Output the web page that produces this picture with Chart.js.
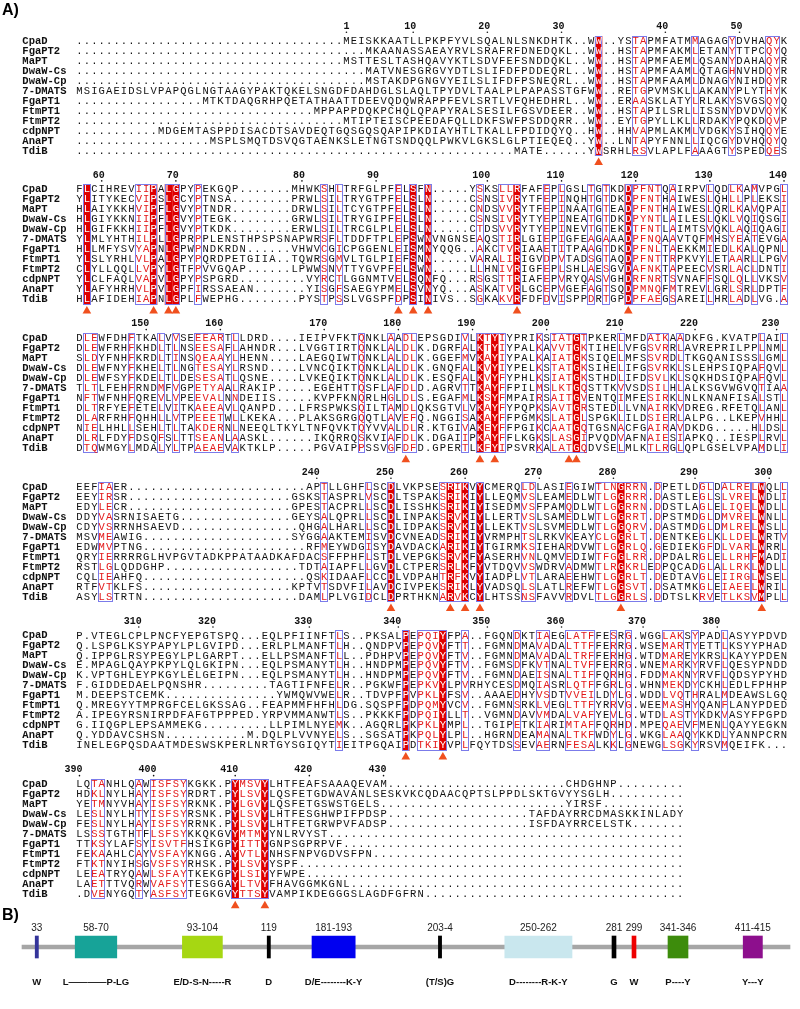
<!DOCTYPE html>
<html>
<head>
<meta charset="utf-8">
<script src="https://cdn.jsdelivr.net/npm/chart.js@4.4.1/dist/chart.umd.min.js"></script>
<style>
  html, body { margin: 0; padding: 0; background: #fff; }
  #wrap { position: relative; width: 800px; height: 1009px; }
  #alignChart { position: absolute; left: 0; top: 0; }
  #domainChart { position: absolute; left: 0; top: 900px; }
</style>
</head>
<body>
<div id="wrap">
  <canvas id="alignChart" width="800" height="915"></canvas>
  <canvas id="domainChart" width="800" height="109"></canvas>
</div>
<script>
// ---- panel A data: sequence names and the six alignment blocks ----
const names = ['CpaD', 'FgaPT2', 'MaPT', 'DwaW-Cs', 'DwaW-Cp', '7-DMATS',
               'FgaPT1', 'FtmPT1', 'FtmPT2', 'cdpNPT', 'AnaPT', 'TdiB'];

const block1 = [
  'MEISKKAATLLPKPFYVLSQALNLSNKDHTK..WW..YSTAPMFATMMAGAGYDVHAQYK',
  'MKAANASSAEAYRVLSRAFRFDNEDQKL..WW..HSTAPMFAKMLETANYTTPCQYQ',
  'MSTTESLTASHQAVYKTLSDVFEFSNDDQKL..WW..HSTAPMFAEMLQSANYDAHAQYR',
  'MATVNESGRGVYDTLSLIFDFPDDEQRL..WW..HSTAPMFAAMLQTAGHNVHDQYR',
  'MSTAKDPGNGVYEILSLIFDFPSNEQRL..WW..HSTAPMFAAMLDNAGYNIHDQYR',
  'MSIGAEIDSLVPAPQGLNGTAAGYPAKTQKELSNGDFDAHDGLSLAQLTPYDVLTAALPLPAPASSTGFWW..RETGPVMSKLLAKANYPLYTHYK',
  'MTKTDAQGRHPQETATHAATTDEEVQDQWRAPPFEVLSRTLVFQHEDHRL..WW..ERAASKLATYLRLAKYSVGSQYQ',
  'MPPAPPDQKPCHQLQPAPYRALSESILFGSVDEER..WW..HSTAPILSRLLISSNYDVDVQYK',
  'MTIPTEISCPEEDAFQLLDKFSWFPSDDQRR..WW..EYTGPYLLKLLRDAKYPQKDQVP',
  'MDGEMTASPPDISACDTSAVDEQTGQSGQSQAPIPKDIAYHTLTKALLFPDIDQYQ..HW..HHVAPMLAKMLVDGKYSIHQQYE',
  'MSPLSMQTDSVQGTAENKSLETNGTSNDQQLPWKVLGKSLGLPTIEQEQ..YW..LNTAPYFNNLLIQCGYDVHQQYQ',
  'MATE' + '......' + 'YWSRHLRSVLAPLFAAAGTYSPEDQES'
];
const block2 = [
  'FLCIHREVIIPALGPYPEKGQP' + '.......' + 'MHWKSHLTRFGLPFELSFN' + '.....' + 'YSKSLLRFAFEPLGSLTGTKDDPFNTQAIRPVLQDLKAMVPGL',
  'YLITYKECVIPSLGCYPTNSA' + '........' + 'PRWLSILTRYGTPFELSLN' + '.....' + 'CSNSIVRYTFEPINQHTGTDKDPFNTHAIWESLQHLLPLEKSI',
  'HLAIYKKHVIPFLGVYPTNDR' + '........' + 'DRWLSILTCYGTPFELSLN' + '.....' + 'CNDSVVRYTFEPINAATGTEADPFNTHAIWESLQRLKAVQPAI',
  'HLGIYKKNIIPFLGVYPTEGK' + '........' + 'GRWLSILTRYGIPFELSLN' + '.....' + 'CSNSIVRYTYEPINEATGTDKDPYNTLAILESLQKLVQIQSGI',
  'HLGIFKKHIIPFLGVYPTKDK' + '........' + 'ERWLSILTRCGLPLELSLN' + '.....' + 'CTDSVVRYTYEPINEVTGTEKDTFNTLAIMTSVQKLAQIQAGI',
  'YLMLYHTHILPLLGPRPPLENSTHPSPSNAPWRSFLTDDFTP' + 'LEPSWNVNGNSEAQSTIRLGIEPIGFEAGAAADPFNQAAVTQFMHSYEATEVGA',
  'HLLMFYSVYAPNLGPWPNDKRDN' + '......' + 'VHWVCGICPGGEN' + 'LEISMNYQQG..AKCTVRIAAETITPAAGTDKDPFNLTAEKKMIEDLKALQPNL',
  'YLSLYRHLVLPALGPYPQRDPETGIIA..TQWRSGMVLTGLP' + 'IEFSNN' + '.....' + 'VARALIRIGVDPVTADSGTAQDPFNTTRPKVYLETAARLLPGV',
  'CLYLLQQLLVPYLGTFPVVGQAP' + '......' + 'LPWWSNVTTYGVP' + 'FELSWN' + '.....' + 'LLHNIVRIGFEPLSHLAESGVDAFNKTAPEECVSRLACLDNTI',
  'YLCLFAQLVAPVLGPYPSPGRD' + '.........' + 'VYRCTLGGNMT' + 'VELSQNFQ...RSGSTTRIAFEPVRYQASVGHDRFNRTSVNAFFSQLQLLVKSV',
  'YLAFYHRHVLPVLGPFIRSSAEAN' + '.......' + 'YISGFSAEGYP' + 'MELSVNYQ...ASKATVRLGCEPVGEFAGTSQDPMNQFMTREVLGRLSRLDPTF',
  'HLAFIDEHIAPNLGPLFWEPHG' + '........' + 'PYSTPSSLVGSP' + 'FDPSINIVS..SGKAKVRFDFDVISPPDRTGPDPFAEGSAREILHRLADLVG.A'
];
const block3 = [
  'DLEWFDHFTKALVVSEEEARTLLDRD' + '....' + 'IEIPVFKTQNKL' + 'AADLEPSGDIVLKTYIYPRIKSIATGTPKERLMFDAIKAADKFG.KVATPLAIL',
  'DLEWFRHFKHDLTLNSEESAFLAHNDR' + '...' + 'LVGGTIRTQNKL' + 'ALDLK.DGRFALKTYIYPALKAVVTGKTIHELVFGSVRRLAVREPRILPPLNML',
  'SLDYFNHFKRDLTINSQEAAYLHENN' + '....' + 'LAEGQIWTQNKL' + 'ALDLK.GGEFMVKAYIYPALKAIATGKSIQELMFSSVRDLTKGQANISSSLGML',
  'DLEWFNYFKHELTLNGTESAYLRSND' + '....' + 'LVNCQIKTQNKL' + 'ALDLK.GNQFALKVYIYPELKSTATGKSIHELIFGSVRKLSLEHPSIQPAFQVL',
  'DLEWFSYFKDELTLDESESATLQSNE' + '....' + 'LVKEQIKTQNKL' + 'ALDLK.ESQFALKVYFYPHLKSIATGKSTHDLIFDSVLKLSQKHDSIQPAFQVL',
  'TLTLFEHFRNDMFVGPETYAALRAKIP' + '.....' + 'EGEHTTQSFL' + 'AFDLD.AGRVTTKAYFFPILMSLKTGQSTTKVVSDSILHLALKSGVWGVQTIAA',
  'NFTWFNHFQREVLVPEEVALNNDEIIS' + '.....' + 'KVPFKNQRLH' + 'GLDLS.EGAFMLKSYFMPAIRSAITGVENTQIMFESIRKLNLKNANFISALSTL',
  'DLTRFYEFETELVITKAEEAVLQANPD' + '...' + 'LFRSPWKSQILT' + 'AMDLQKSGTVLVKAYFYPQPKSAVTGRSTEDLLVNAIRKVDREG.RFETQLANL',
  'DLARFRHFQHHLLVTPEEETWLLKEKA' + '...' + 'PLAKSGRGQQTL' + 'AVEFQ.NGGISAKAYFFPGMKSLATGLSPGKLILDSIERLALPG..LKEPVHHL',
  'NIELHHLLSEHLTLTAKDERNLNEEQLTKYLTNFQVKTQYVV' + 'ALDLR.KTGIVAKEYFFPGIKCAATGQTGSNACFGAIRAVDKDG.....HLDSL',
  'DLRLFDYFDSQFSLTTSEANLAASKL' + '......' + 'IKQRRQSKVI' + 'AFDLK.DGAIIPKAYFFLKGKSLASGIPVQDVAFNAIESIAPKQ..IESPLRVL',
  'DTQWMGYLMDALYLTPAEAEVAKTKLP' + '.....' + 'PGVAIPPSSV' + 'GFDFD.GPERTLKFYIPSVRKALATGQDVSELMLKTLRGLQPLGSELVPAMDLI'
];
const block4 = [
  'EEFIAER' + '..........' + '..........' + '....' + 'APTLLGHFLSC' + 'DLVKPSESRIKVYCMERQLDLASIEGIWTLNGRRN.DPETLDGLDALRELWQLL',
  'EEYIRSR' + '..........' + '..........' + '..' + 'GSKSTASPRLVSC' + 'DLTSPAKSRIKIYLLEQMVSLEAMEDLWTLGGRRR.DASTLEGLSLVRELWDLI',
  'EDYLECR' + '..........' + '..........' + '..' + 'GPESTACPRLLSC' + 'DLISSHKSRIKIYISEDMVSFPAMQDLWTLGGRRN.DDSTLAGLELIQELWDLL',
  'DDYVASRNISAETG' + '..........' + '.....' + 'GEYSALQPRLLSC' + 'DLINPAKSRVKIYLLERTVSLSAMEDLWTLGGRRT.DPSTMDGLDMVRELWNLL',
  'CDYVSRRNHSAEVD' + '..........' + '......' + 'QHGALHARLLSC' + 'DLIDPAKSRVKIYLLEKTVSLSVMEDLWTLGGQRV.DASTMDGLDMLRELWSLL',
  'MSVMEAWIG' + '..........' + '..........' + 'SYGGAAKTEMISV' + 'DCVNEADSRIKIYVRMPHTSLRKVKEAYCLGGRLT.DENTKEGLKLLDELWRTV',
  'EDWMVPTNG' + '..........' + '..........' + '..' + 'RFMEYWDGISY' + 'DAVDACKARIKIYTGIRMKSIEHARDVWTLGGRLQ.GEDIEKGFDLVARLWRRL',
  'QRYIERRRRGLHVPGVTADKPPATAADKAFDACSFFPHFLST' + 'DLVEPGKSRVKFYASERHVNLQMVEDIWTFGGLRR.DPDALRGLELLRHFMADI',
  'RSTLGLQDDGHP' + '..........' + '........' + 'TDTAIAPFLLGV' + 'DLCTPERSRLKFYVTDQVVSWDRVADMWTLRGKRLEDPQCADGLALLRKLWDLL',
  'CQLIEAHFQ' + '..........' + '..........' + '..' + 'QSKIDAAFLCC' + 'DLVDPAHTRFKVYIADPLVTLARAEEHWTLGGRLT.DEDTAVGLEIIRGLWSEL',
  'RTFVTKLFS' + '..........' + '..........' + 'KPTVTSDVFILAV' + 'DCIVPEKSRIKLYVADSQLSLATLREFWTLGGSVT.DSATMKGLEIAEELWRIL',
  'ASYLSTRTN' + '..........' + '..........' + '.' + 'DAMLPLVGIDCL' + 'DPRTHKNARVKCYLHTSSNSFAVVRDVLTLGGRLS.DDTSLKRVETLKSVMPLL'
];
const block5 = [
  'P.VTEGLCPLPNCFYEPGTSPQ...EQLPFIINFTLS..PKS' + 'ALPEPQIYFPA..FGQNDKTIAEGLATFFESRG.WGGLAKSYPADLASYYPDVD',
  'Q.LSPGLKSYPAPYLPLGVIPD...ERLPLMANFTLH..QND' + 'PVPEPQVYFTT..FGMNDMAVADALTTFFERRG.WSEMARTYETTLKSYYPHAD',
  'Q.IPPGLRSYPEGYLPLGARPT...ELLPSMANFTLL..PDH' + 'PVPEPQVYFTV..FGMNDMAVADALTRFFERHG.WTDMAREYKRSLKAYYPDEN',
  'E.MPAGLQAYPKPYLQLGKIPN...EQLPSMANYTLH..HND' + 'PMPEPQVYFTV..FGMSDFKVTNALTVFFERRG.WNEMARKYRVFLQESYPNDD',
  'K.VPTGHLEYPKGYLELGEIPN...EQLPSMANYTLH..HND' + 'PMPEPQVYFTV..FGMNDAEISNALTIFFQRHG.FDDMAKNYRVFLQDSYPYHD',
  'F.GIDDEDAELPQNSHR' + '.........' + 'TAGTIFNFELR..PGK' + 'WFPEPKVYLPVRHYCESDMQIASRLQTFFGRLG.WHNMEKDYCKHLEDLFPHHP',
  'M.DEEPSTCEMK' + '..........' + '.....' + 'YWMQWVWELR..TDV' + 'PFPVPKLYFSV..AAAEDHYVSDTVVEILDYLG.WDDLVQTHRALMDEAWSLGQ',
  'Q.MREGYYTMPRGFCELGKSSAG..FEAPMMFHFHLDG.SQS' + 'PFPDPQMYVCV..FGMNSRKLVEGLTTFYRRVG.WEEMASHYQANFLANYPDED',
  'A.IPEGYRSNIRPDFAFGTPPPED.YRPVMMANWTLS..PKK' + 'KFPDPQIYLLT..VGMNDAVVMDALVAFYEVLG.WTDLASTYKDKVASYFPGPD',
  'G.IIQGPLEPSAMMEKG' + '.........' + 'LLPIMLNYEMK..AGQ' + 'RLPKPKLYMPL..TGIPETKIARIMTAFFQRHD.MPEQAEVFMENLQAYYEGKN',
  'Q.YDDAVCSHSN' + '...........' + 'M.DQLPLVVNYELS..SGS' + 'ATPKPQLYLPL..HGRNDEAMANALTKFWDYLG.WKGLAAQYKKDLYANNPCRN',
  'INELEGPQSDAATMDESWSKPERLNRTGYSGIQYTIEITPGQ' + 'AIPDTKIYVPLFQYTDSSEVAERNFESALKKLGNEWGLSGKYRSVMQEIFK...'
];
const block6 = [
  'LQTANHLQAWISFSYKGKK.PYMSVYLHTFEAFSAAAQEVAM' + '..........' + '..........' + '....' + 'CHDGHNP',
  'HDKLNYLHAYISFSYRDRT.PYLSVYLQSFETGDWAVANLSE' + 'SKVKCQDAACQPTSLPPDLSKTGVYYSGLH',
  'YETMNYVHAYISFSYRKNK.PYLGVYLQSFETGSWSTGELS.' + '..........' + '..........' + '....' + 'YIRSF',
  'LESLNYLHTYISFSYRSNK.PYLSVYLHTFESGHWPIFPDSP' + '..........' + '.........' + 'TAFDAYRRCDMASKKINLADY',
  'FESLNYLHAYISFSYRRNK.PYLSVYLHTFETGRWPVFADSP' + '..........' + '.........' + 'ISFDAYRRCELSTK',
  'LSSSTGTHTFLSFSYKKQKGVYMTMYYNLRVYST',
  'TTKSYLAFSYISVTFHSIKGPYITTYGNPSGPRPVF',
  'FEKAAHLCAYVSFAYKNGG.AYVTLYNHSFNPVGDVSFPN',
  'FTKTNYIHSGVSFSYRHSK.PYLSVYYSPF',
  'LEEATRYQAWLSFAYTKEKGPYLSIYYFWPE',
  'LAETTTVQRWVAFSYTESGGAYLTVYFHAVGGMKGNL',
  '.DVENYGQTYASFSYTEGKGVYTTSYVAMPIKDEGGGSLAGDFGFRN'
];
const blockWidths = [96, 96, 96, 96, 96, 82];

// strictly conserved columns (red fill) and similarity frames, per block
const fills = [
  [70],
  [1, 10, 12, 13, 45, 47, 59, 74],
  [54, 56, 67],
  [42, 50, 52, 54, 73, 92],
  [44, 49],
  [21, 25]
];
const boxes = [
  [[70, 70], [75, 76], [83, 83], [88, 88], [93, 94]],
  [[1, 1], [8, 10], [12, 13], [16, 16], [33, 33], [35, 35], [43, 43], [45, 45], [47, 47], [54, 54],
   [57, 59], [63, 63], [65, 65], [69, 69], [71, 71], [74, 74], [75, 78], [80, 80], [85, 85], [88, 89],
   [91, 91], [95, 95]],
  [[1, 2], [7, 7], [11, 11], [13, 13], [16, 19], [21, 21], [38, 38], [42, 42], [44, 45], [52, 52],
   [54, 57], [62, 62], [64, 68], [73, 73], [77, 79], [81, 81], [92, 92], [95, 95]],
  [[3, 4], [33, 33], [39, 39], [42, 42], [49, 52], [54, 54], [60, 61], [66, 66], [70, 76], [78, 78],
   [84, 85], [87, 90], [91, 92], [95, 95]],
  [[35, 35], [44, 44], [46, 49], [52, 52], [59, 59], [62, 63], [66, 69], [72, 72], [74, 74], [79, 81],
   [83, 83], [87, 87]],
  [[2, 3], [8, 8], [10, 14], [21, 25]]
];
// CpaD residues marked with a triangle
const markedResidues = [33, 58, 67, 69, 70, 93, 95, 97, 104, 119, 181, 191, 193, 203, 204,
                        250, 258, 260, 262, 281, 299, 341, 346, 410, 414];

// ---- panel B data: motif schematic ----
const motifLabels = ['33', '58-70', '93-104', '119', '181-193', '203-4', '250-262', '281', '299', '341-346', '411-415'];
const motifPatterns = ['W', 'L\u2014\u2014\u2014\u2014P-LG', 'E/D-S-N-----R', 'D', 'D/E--------K-Y', '(T/S)G',
                       'D--------R-K-Y', 'G', 'W', 'P----Y', 'Y---Y'];
// extent of each motif mark along the schematic bar (0-100)
const motifFrom = [4.4, 9.4, 22.8, 33.4, 39.0, 54.8, 63.1, 76.5, 79.0, 83.5, 92.9];
const motifTo   = [4.8, 14.6, 27.8, 33.8, 44.4, 55.2, 71.5, 77.0, 79.5, 86.0, 95.3];
const backbone = [2.75, 98.75];

// ---- styling / layout constants ----
const motifColors = ['#34349a', '#17a398', '#a6d712', '#000000', '#0000f0', '#000000',
                     '#c9e7ee', '#000000', '#ee0000', '#3d8c0c', '#8d0f8d'];
const FILL_RED = '#e00000';
const TEXT_RED = '#e31a1a';
const BOX_BLUE = '#7b7bea';
const TRI_COLOR = '#f0501e';
const SEQ_FONT = '10.5px "Liberation Mono", "DejaVu Sans Mono", monospace';
const NAME_FONT = 'bold 10.5px "Liberation Mono", "DejaVu Sans Mono", monospace';
const NUM_FONT = 'bold 10px "Liberation Mono", "DejaVu Sans Mono", monospace';
const PITCH = 14.884;      // lines from one block to the next
const NAME_COL = -7.7;     // where the names column starts (in column units)
const NUM_LINE = -1.45, NUM_DOT = -0.88, TRI_LINE = 12.15;

// normalise rows: leading gaps for blocks 1-5, trailing gaps for the last one
const rows = [block1, block2, block3, block4, block5, block6].map((blk, b) =>
  blk.map(s => b < 5 ? s.padStart(blockWidths[b], '.') : s.padEnd(blockWidths[b], '.')));

// where each CpaD residue sits (block, column)
const residueAt = {};
let count = 0;
rows.forEach((blk, b) => {
  for (let c = 0; c < blk[0].length; c++) {
    if (blk[0][c] !== '.') { count++; residueAt[count] = { b, c }; }
  }
});

const trianglePoints = markedResidues.map(n => ({ x: residueAt[n].c, y: residueAt[n].b * PITCH + TRI_LINE }));

const alignmentLayer = {
  id: 'alignmentLayer',
  beforeDatasetsDraw(chart) {
    const { ctx, scales: { x, y } } = chart;
    const cw = x.getPixelForValue(1) - x.getPixelForValue(0);
    ctx.save();
    ctx.fillStyle = '#000';
    ctx.font = 'bold 16px "Liberation Sans", Arial, sans-serif';
    ctx.textAlign = 'left';
    ctx.textBaseline = 'middle';
    ctx.fillText('A)', 2, 11);

    rows.forEach((blk, b) => {
      const base = b * PITCH;
      const top = Math.round(y.getPixelForValue(base - 0.55));
      const bottom = Math.round(y.getPixelForValue(base + names.length - 0.5));
      const filled = new Set(fills[b]);
      const boxed = new Set();
      boxes[b].forEach(([s, e]) => { for (let c = s; c <= e; c++) boxed.add(c); });

      ctx.fillStyle = FILL_RED;
      fills[b].forEach(c => ctx.fillRect(x.getPixelForValue(c - 0.5), top, cw, bottom - top));

      ctx.strokeStyle = BOX_BLUE;
      ctx.lineWidth = 1;
      boxes[b].forEach(([s, e]) => {
        const l = Math.round(x.getPixelForValue(s - 0.5)) + 0.5;
        const r = Math.round(x.getPixelForValue(e + 0.5)) - 0.5;
        ctx.strokeRect(l, top + 0.5, r - l, bottom - top - 1);
      });

      blk.forEach((seq, r) => {
        const py = y.getPixelForValue(base + r);
        ctx.font = NAME_FONT;
        ctx.textAlign = 'left';
        ctx.fillStyle = '#111';
        ctx.fillText(names[r], x.getPixelForValue(NAME_COL), py);
        ctx.font = SEQ_FONT;
        ctx.textAlign = 'center';
        for (let c = 0; c < seq.length; c++) {
          const ch = seq[c];
          ctx.fillStyle = filled.has(c) ? '#fff' : (boxed.has(c) && ch !== '.') ? TEXT_RED : '#111';
          ctx.fillText(ch, x.getPixelForValue(c), py);
        }
      });
    });

    // residue numbering of CpaD
    ctx.font = NUM_FONT;
    ctx.textAlign = 'right';
    Object.keys(residueAt).forEach(k => {
      const n = +k;
      if (n !== 1 && n % 10 !== 0) return;
      const { b, c } = residueAt[n];
      const px = x.getPixelForValue(c);
      ctx.fillStyle = '#111';
      ctx.fillText(String(n), px + 3, y.getPixelForValue(b * PITCH + NUM_LINE));
      ctx.beginPath();
      ctx.arc(px, y.getPixelForValue(b * PITCH + NUM_DOT), 0.8, 0, Math.PI * 2);
      ctx.fill();
    });
    ctx.restore();
  }
};

new Chart(document.getElementById('alignChart'), {
  type: 'scatter',
  data: {
    datasets: [{
      label: 'key residues',
      data: trianglePoints,
      pointStyle: 'triangle',
      pointRadius: 5,
      pointBackgroundColor: TRI_COLOR,
      pointBorderWidth: 0,
      showLine: false
    }]
  },
  options: {
    responsive: false,
    animation: false,
    layout: { padding: 0 },
    scales: {
      x: { type: 'linear', min: -10.04, max: 96.48, display: false },
      y: { type: 'linear', min: -3.604, max: 86.99, reverse: true, display: false }
    },
    plugins: { legend: { display: false }, tooltip: { enabled: false } }
  },
  plugins: [alignmentLayer]
});

const motifText = {
  id: 'motifText',
  afterDatasetsDraw(chart) {
    const { ctx, scales: { x } } = chart;
    ctx.save();
    ctx.fillStyle = '#000';
    ctx.font = 'bold 16px "Liberation Sans", Arial, sans-serif';
    ctx.textAlign = 'left';
    ctx.textBaseline = 'middle';
    ctx.fillText('B)', 2, 16);
    ctx.textAlign = 'center';
    motifLabels.forEach((lab, i) => {
      const cx = x.getPixelForValue((motifFrom[i] + motifTo[i]) / 2);
      ctx.font = '10px "Liberation Sans", Arial, sans-serif';
      ctx.fillStyle = '#222';
      ctx.fillText(lab, cx, 28);
      ctx.font = 'bold 9.5px "Liberation Sans", Arial, sans-serif';
      ctx.fillStyle = '#111';
      ctx.fillText(motifPatterns[i], cx, 82);
    });
    ctx.restore();
  }
};

new Chart(document.getElementById('domainChart'), {
  type: 'bar',
  data: {
    labels: ['motifs'],
    datasets: motifLabels.map((lab, i) => ({
      label: lab,
      data: [[motifFrom[i], motifTo[i]]],
      backgroundColor: motifColors[i],
      barThickness: 22,
      grouped: false,
      borderWidth: 0,
      order: 0
    })).concat([{
      label: 'backbone',
      data: [[backbone[0], backbone[1]]],
      backgroundColor: '#a6a6a6',
      barThickness: 4,
      grouped: false,
      borderWidth: 0,
      order: 1
    }])
  },
  options: {
    indexAxis: 'y',
    responsive: false,
    animation: false,
    layout: { padding: { top: 0, bottom: 15, left: 0, right: 0 } },
    scales: {
      x: { type: 'linear', min: 0, max: 100, display: false },
      y: { display: false }
    },
    plugins: { legend: { display: false }, tooltip: { enabled: false } }
  },
  plugins: [motifText]
});
</script>
</body>
</html>
